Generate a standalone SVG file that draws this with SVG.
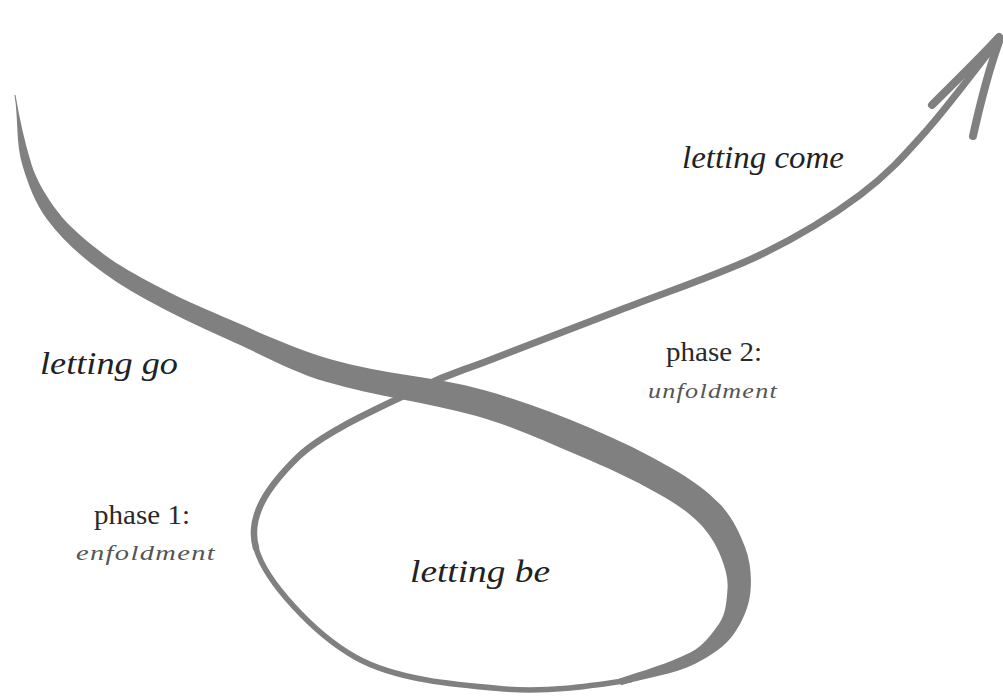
<svg xmlns="http://www.w3.org/2000/svg" width="1003" height="696" viewBox="0 0 1003 696">
  <style>
    .band { fill: #808080; }
    .line { fill: none; stroke: #808080; stroke-linecap: round; stroke-linejoin: round; }
    .script { font-family: "Liberation Serif", "DejaVu Serif", serif; font-style: italic; fill: #222; }
    .phase { font-family: "Liberation Serif", "DejaVu Serif", serif; fill: #2a2a2a; font-size: 28px; }
    .sub { font-family: "Liberation Serif", "DejaVu Serif", serif; font-style: italic; fill: #555; font-size: 21px; letter-spacing: 1px; }
  </style>
  <rect width="1003" height="696" fill="#ffffff"/>
  <g id="curve">
    <path class="band" d="M15.5,94.9 C19.5,118.1 24.4,141.3 31.3,163.7 C36.6,180.9 46.5,196.6 57.2,211.1 C68.7,226.7 84.4,239.1 99.6,251.1 C116.3,264.3 135.3,274.4 154.0,284.5 C179.8,298.4 207.0,309.5 233.8,321.3 C266.4,335.6 299.0,350.0 333.2,360.0 C382.3,374.3 434.4,376.3 483.6,390.0 C520.1,400.2 555.9,413.5 590.8,428.2 C618.7,440.0 646.0,453.3 672.2,468.4 C689.5,478.4 706.3,489.9 720.1,504.3 C731.6,516.3 739.3,531.9 745.2,547.4 C750.4,561.1 751.7,576.3 750.5,590.9 C749.3,605.9 742.9,620.6 734.5,633.0 C725.3,646.6 710.3,656.0 695.7,663.4 C672.6,675.1 645.7,677.2 621.1,685.3 L618.9,678.7 C642.9,670.8 667.7,664.0 690.3,652.6 C702.7,646.3 711.7,634.5 719.5,623.0 C726.0,613.4 726.6,600.7 727.5,589.1 C728.4,578.0 724.8,567.0 720.8,556.6 C716.2,544.4 708.9,533.1 699.9,523.7 C687.9,511.2 672.8,502.2 657.8,493.6 C632.6,479.1 606.0,467.1 579.2,455.8 C545.4,441.6 511.7,425.8 476.4,416.0 C427.2,402.3 375.9,396.3 326.8,382.0 C291.8,371.8 259.6,353.4 226.2,338.7 C198.9,326.7 172.2,313.7 146.0,299.5 C126.5,288.9 107.8,276.6 90.4,262.9 C74.2,250.2 59.0,235.5 46.8,218.9 C35.3,203.4 28.4,184.7 22.7,166.3 C15.6,143.5 18.5,118.7 14.5,95.1 Z"/>
    <path class="line" stroke-width="5.5" d="M630,680 C597.5,684.8 550.8,692.8 505,689 C459.2,685.2 396.5,680.5 355,657 C313.5,633.5 265.5,581.3 256,548"/>
    <path class="line" stroke-width="6.5" d="M256,548 C246.5,514.7 270.7,483.7 298,457 C325.3,430.3 388,404.2 420,388"/>
    <path class="line" stroke-width="7" d="M420,388 C452,371.8 456.7,373 490,360 C523.3,347 575,327.5 620,310 C665,292.5 720,274.2 760,255 C800,235.8 832.2,215.8 860,195 C887.8,174.2 903.7,156.2 927,130 C950.3,103.8 987.8,53.3 1000,38"/>
    <path class="line" stroke-width="8" d="M932,105 C955,82 980,58 999,37"/>
    <path class="line" stroke-width="8" d="M973,136 C981,100 990,66 1000,39"/>
  </g>
  <g id="letting-go"><text class="script" x="40" y="374" font-size="32" textLength="138" lengthAdjust="spacingAndGlyphs">letting go</text></g>
  <g id="letting-come"><text class="script" x="682" y="168" font-size="32" textLength="162" lengthAdjust="spacingAndGlyphs">letting come</text></g>
  <g id="letting-be"><text class="script" x="410" y="582" font-size="32" textLength="140" lengthAdjust="spacingAndGlyphs">letting be</text></g>
  <g id="phase2">
    <text class="phase" x="666" y="361" textLength="96" lengthAdjust="spacingAndGlyphs">phase 2:</text>
    <text class="sub" x="648" y="398" textLength="130" lengthAdjust="spacingAndGlyphs">unfoldment</text>
  </g>
  <g id="phase1">
    <text class="phase" x="94" y="524" textLength="96" lengthAdjust="spacingAndGlyphs">phase 1:</text>
    <text class="sub" x="76" y="560" textLength="140" lengthAdjust="spacingAndGlyphs">enfoldment</text>
  </g>
</svg>
